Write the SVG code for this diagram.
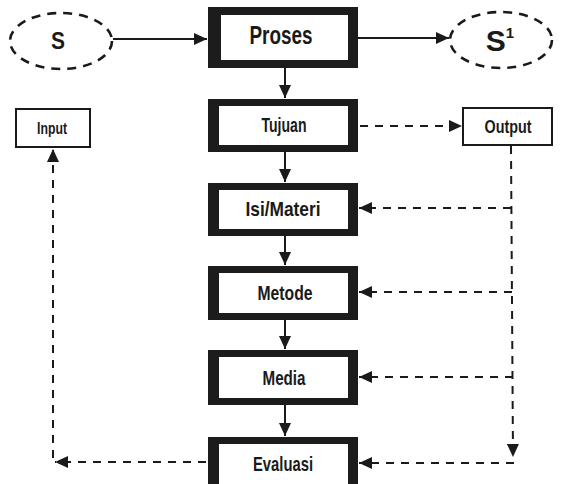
<svg xmlns="http://www.w3.org/2000/svg" width="579" height="484" viewBox="0 0 579 484">
<style>
.lbl{font-family:"Liberation Sans Narrow","Liberation Sans",Arial,sans-serif;font-weight:bold;fill:#1a1a1a;text-anchor:middle}
.frame{fill:#1c1c1c}
.inner{fill:#ffffff}
.thin{fill:#ffffff;stroke:#1a1a1a;stroke-width:2}
.oval{fill:none;stroke:#1a1a1a;stroke-width:2.6;stroke-dasharray:9 7}
.solid{fill:none;stroke:#1a1a1a;stroke-width:2}
.dash{fill:none;stroke:#1a1a1a;stroke-width:2;stroke-dasharray:8 7}
</style>
<defs>
<marker id="ah" markerUnits="userSpaceOnUse" markerWidth="14" markerHeight="12" refX="13" refY="6" orient="auto">
<path d="M0,0 L13,6 L0,12 z" fill="#1a1a1a"/>
</marker>
</defs>
<rect width="579" height="484" fill="#ffffff"/>

<g id="connectors">
<line class="solid" x1="113" y1="39" x2="207" y2="39" marker-end="url(#ah)"/>
<line class="solid" x1="358" y1="38" x2="449" y2="38" marker-end="url(#ah)"/>
<line class="solid" x1="285" y1="68" x2="285" y2="98" marker-end="url(#ah)"/>
<line class="solid" x1="285" y1="152" x2="285" y2="182" marker-end="url(#ah)"/>
<line class="solid" x1="285" y1="236" x2="285" y2="265" marker-end="url(#ah)"/>
<line class="solid" x1="285" y1="320" x2="285" y2="349" marker-end="url(#ah)"/>
<line class="solid" x1="285" y1="405" x2="285" y2="436" marker-end="url(#ah)"/>
<line class="dash" x1="360" y1="126" x2="462" y2="126" marker-end="url(#ah)"/>
<path class="dash" d="M511,146 L513,457" marker-end="url(#ah)"/>
<line class="dash" x1="511" y1="208" x2="359" y2="208" marker-end="url(#ah)"/>
<line class="dash" x1="512" y1="292" x2="359" y2="292" marker-end="url(#ah)"/>
<line class="dash" x1="513" y1="377" x2="359" y2="377" marker-end="url(#ah)"/>
<line class="dash" x1="514" y1="463" x2="359" y2="463" marker-end="url(#ah)"/>
<line class="dash" x1="206" y1="462" x2="55" y2="462" marker-end="url(#ah)"/>
<line class="dash" x1="53" y1="458" x2="53" y2="149" marker-end="url(#ah)"/>
</g>

<g id="s">
<ellipse class="oval" cx="61" cy="41" rx="51" ry="28"/>
<text class="lbl" x="58" y="49" font-size="24" textLength="14" lengthAdjust="spacingAndGlyphs">S</text>
</g>

<g id="s1">
<ellipse class="oval" cx="501" cy="40" rx="51" ry="28"/>
<text class="lbl" x="500" y="51" font-size="30">S<tspan font-size="15" dy="-13">1</tspan></text>
</g>

<g id="proses">
<rect class="frame" x="208" y="7" width="150" height="61"/>
<rect class="inner" x="221" y="15" width="127" height="45"/>
<text class="lbl" x="281" y="44" font-size="26" textLength="63" lengthAdjust="spacingAndGlyphs">Proses</text>
</g>

<g id="tujuan">
<rect class="frame" x="208" y="99" width="150" height="53"/>
<rect class="inner" x="219" y="106" width="129" height="39"/>
<text class="lbl" x="284" y="132" font-size="21" textLength="45" lengthAdjust="spacingAndGlyphs">Tujuan</text>
</g>

<g id="isi">
<rect class="frame" x="208" y="183" width="150" height="53"/>
<rect class="inner" x="219" y="190" width="129" height="39"/>
<text class="lbl" x="283" y="216" font-size="21" textLength="75" lengthAdjust="spacingAndGlyphs">Isi/Materi</text>
</g>

<g id="metode">
<rect class="frame" x="208" y="266" width="150" height="54"/>
<rect class="inner" x="219" y="273" width="129" height="40"/>
<text class="lbl" x="285" y="300" font-size="21" textLength="55" lengthAdjust="spacingAndGlyphs">Metode</text>
</g>

<g id="media">
<rect class="frame" x="208" y="350" width="150" height="55"/>
<rect class="inner" x="219" y="357" width="129" height="41"/>
<text class="lbl" x="284" y="385" font-size="21" textLength="43" lengthAdjust="spacingAndGlyphs">Media</text>
</g>

<g id="evaluasi">
<rect class="frame" x="208" y="437" width="150" height="56"/>
<rect class="inner" x="219" y="444" width="129" height="50"/>
<text class="lbl" x="283" y="471" font-size="21" textLength="60" lengthAdjust="spacingAndGlyphs">Evaluasi</text>
</g>

<g id="input">
<rect class="thin" x="16" y="109" width="74" height="38"/>
<text class="lbl" x="52" y="134" font-size="17" textLength="30" lengthAdjust="spacingAndGlyphs">Input</text>
</g>

<g id="output">
<rect class="thin" x="463" y="108" width="89" height="37"/>
<text class="lbl" x="508" y="133" font-size="19" textLength="47" lengthAdjust="spacingAndGlyphs">Output</text>
</g>
</svg>
